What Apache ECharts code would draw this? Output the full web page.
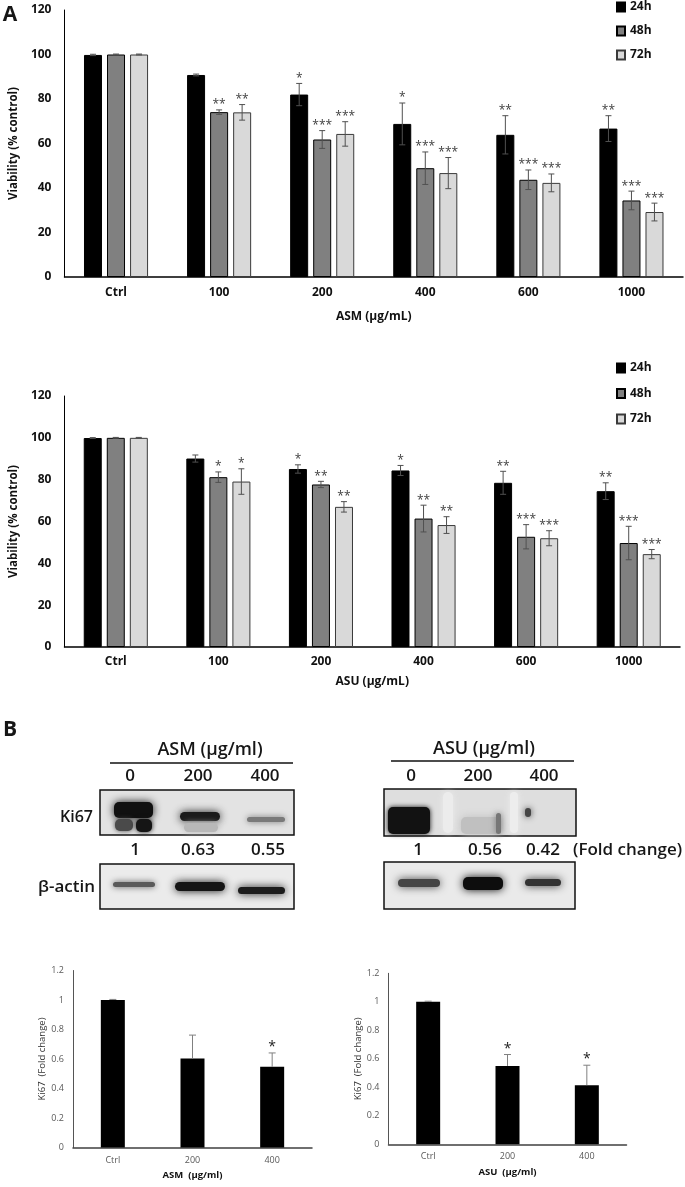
<!DOCTYPE html>
<html>
<head>
<meta charset="utf-8">
<script src="https://cdn.jsdelivr.net/npm/echarts@6/dist/echarts.min.js"></script>
<style>
  html, body { margin: 0; padding: 0; background: #fff; }
  #main { width: 685px; height: 1187px; }
</style>
</head>
<body>
<div id="main"></div>
<script>
// ---- data ----
const doses = ['Ctrl', '100', '200', '400', '600', '1000'];
const viabTicks = [0, 20, 40, 60, 80, 100, 120];

// panel A, ASM
const asm24 = [99.8, 90.8, 82.0, 68.8, 63.9, 66.7];
const asm48 = [100, 74.1, 61.8, 48.9, 43.7, 34.4];
const asm72 = [100, 74.0, 64.3, 46.7, 42.3, 29.2];
const asm24Err = [0.3, 0.4, 5.0, 9.4, 8.6, 5.8];
const asm48Err = [0.2, 1.0, 4.0, 7.3, 4.4, 4.2];
const asm72Err = [0.2, 3.5, 5.5, 7.0, 4.0, 4.0];
const asm24Sig = ['', '', '*', '*', '**', '**'];
const asm48Sig = ['', '**', '***', '***', '***', '***'];
const asm72Sig = ['', '**', '***', '***', '***', '***'];

// panel A, ASU
const asu24 = [99.9, 90.1, 85.1, 84.4, 78.5, 74.5];
const asu48 = [100, 81.2, 77.7, 61.4, 52.7, 49.7];
const asu72 = [100, 79.1, 67.0, 58.3, 52.0, 44.4];
const asu24Err = [0.2, 1.7, 2.0, 2.4, 5.5, 4.0];
const asu48Err = [0.2, 2.5, 1.5, 6.4, 5.8, 8.0];
const asu72Err = [0.2, 6.1, 2.5, 4.0, 3.6, 2.2];
const asu24Sig = ['', '', '*', '*', '**', '**'];
const asu48Sig = ['', '*', '**', '**', '***', '***'];
const asu72Sig = ['', '*', '**', '**', '***', '***'];

// panel B, western blot quantification
const blotLanes = ['0', '200', '400'];
const asmFold = ['1', '0.63', '0.55'];
const asuFold = ['1', '0.56', '0.42'];
const ki67Doses = ['Ctrl', '200', '400'];
const foldTicks = [0, 0.2, 0.4, 0.6, 0.8, 1, 1.2];
const ki67Asm = [1.0, 0.604, 0.547];
const ki67AsmErr = [0.004, 0.158, 0.094];
const ki67AsmSig = ['', '', '*'];
const ki67Asu = [1.0, 0.55, 0.415];
const ki67AsuErr = [0.004, 0.08, 0.14];
const ki67AsuSig = ['', '*', '*'];

const FONT = '"Open Sans", "Liberation Sans", sans-serif';
const timeNames = ['24h', '48h', '72h'];
const timeColors = ['#000000', '#808080', '#d9d9d9'];

const chart = echarts.init(document.getElementById('main'), null, { renderer: 'canvas' });

// error bars (+ significance stars) drawn through the axes
function errorSeries(axis, means, errs, sigs, offset, o) {
  return {
    type: 'custom',
    xAxisIndex: axis,
    yAxisIndex: axis,
    silent: true,
    z: 10,
    data: means.map((m, i) => [i, o.upOnly ? m : m - errs[i], m + errs[i]]),
    renderItem: function (params, api) {
      const i = params.dataIndex;
      const lo = api.coord([api.value(0), api.value(1)]);
      const hi = api.coord([api.value(0), api.value(2)]);
      const x = lo[0] + offset;
      const st = { stroke: o.color, lineWidth: 1 };
      const kids = [
        { type: 'line', shape: { x1: x, y1: lo[1], x2: x, y2: hi[1] }, style: st },
        { type: 'line', shape: { x1: x - o.cap, y1: hi[1], x2: x + o.cap, y2: hi[1] }, style: st }
      ];
      if (!o.upOnly) {
        kids.push({ type: 'line', shape: { x1: x - o.cap, y1: lo[1], x2: x + o.cap, y2: lo[1] }, style: st });
      }
      if (sigs[i]) {
        kids.push({
          type: 'text',
          style: {
            text: sigs[i], x: x, y: hi[1] - o.sigGap,
            font: o.sigFont, fill: o.sigColor,
            align: 'center', textAlign: 'center',
            verticalAlign: 'middle', textVerticalAlign: 'middle'
          }
        });
      }
      return { type: 'group', children: kids };
    }
  };
}

function barSeries(axis, name, data, color) {
  return {
    name: name, type: 'bar', xAxisIndex: axis, yAxisIndex: axis,
    data: data, barWidth: 18, barGap: '28%',
    itemStyle: { color: color, borderColor: name === '72h' ? '#3a3a3a' : '#000', borderWidth: 1 },
    emphasis: { disabled: true }
  };
}

const topErr = { color: '#505050', cap: 3, sigGap: 5, sigFont: '12px ' + FONT, sigColor: '#404040' };
const botErr = { color: '#808080', cap: 3.5, sigGap: 6, sigFont: '14px ' + FONT, sigColor: '#222', upOnly: true };

function viabX(grid, title, margin, gap) {
  return {
    type: 'category', gridIndex: grid, data: doses,
    axisLine: { lineStyle: { color: '#000', width: 1.5 } },
    axisTick: { show: false },
    axisLabel: { margin: margin, color: '#111', fontWeight: 'bold', fontSize: 12, fontFamily: FONT },
    name: title, nameLocation: 'middle', nameGap: gap,
    nameTextStyle: { color: '#111', fontWeight: 'bold', fontSize: 12, fontFamily: FONT }
  };
}
function viabY(grid) {
  return {
    type: 'value', gridIndex: grid,
    min: viabTicks[0], max: viabTicks[viabTicks.length - 1], interval: viabTicks[1] - viabTicks[0],
    splitLine: { show: false }, axisTick: { show: false },
    axisLine: { show: true, lineStyle: { color: '#000', width: 1 } },
    axisLabel: { margin: 13, color: '#111', fontWeight: 'bold', fontSize: 12, fontFamily: FONT },
    name: 'Viability (% control)', nameLocation: 'middle', nameRotate: 90, nameGap: 38,
    nameTextStyle: { color: '#111', fontWeight: 'bold', fontSize: 11.5, fontFamily: FONT }
  };
}
function foldX(grid, title) {
  return {
    type: 'category', gridIndex: grid, data: ki67Doses,
    axisLine: { lineStyle: { color: '#404040', width: 1.5 } },
    axisTick: { show: false },
    axisLabel: { margin: 8, color: '#595959', fontSize: 9, fontFamily: FONT },
    name: title, nameLocation: 'middle', nameGap: 23,
    nameTextStyle: { color: '#111', fontWeight: 'bold', fontSize: 9.5, fontFamily: FONT }
  };
}
function foldY(grid) {
  return {
    type: 'value', gridIndex: grid,
    min: foldTicks[0], max: foldTicks[foldTicks.length - 1], interval: 0.2,
    splitLine: { show: false }, axisTick: { show: false },
    axisLine: { show: true, lineStyle: { color: '#555', width: 1 } },
    axisLabel: { margin: 9, color: '#595959', fontSize: 9, fontFamily: FONT },
    name: 'Ki67  (Fold change)', nameLocation: 'middle', nameRotate: 90, nameGap: 22,
    nameTextStyle: { color: '#333', fontSize: 9.5, fontFamily: FONT }
  };
}

// ---- western blot decoration ----
function txt(s, x, y, size, align, weight) {
  return {
    type: 'text', silent: true,
    style: {
      text: s, x: x, y: y, fill: '#161616',
      font: (weight || '600') + ' ' + size + 'px ' + FONT,
      align: align || 'center', textAlign: align || 'center',
      verticalAlign: 'middle', textVerticalAlign: 'middle'
    }
  };
}
function box(x, y, w, h, fill) {
  return { type: 'rect', silent: true, shape: { x: x, y: y, width: w, height: h },
    style: { fill: fill, stroke: '#111', lineWidth: 1.5 } };
}
function band(x, y, w, h, c, blur) {
  return { type: 'rect', silent: true, z: 1, shape: { x: x + 2, y: y + 1, width: w - 4, height: Math.max(2, h - 2), r: Math.min(5, h / 2) },
    style: { fill: c, shadowBlur: blur == null ? 8 : blur, shadowColor: c } };
}
function hline(x1, x2, y) {
  return { type: 'line', silent: true, shape: { x1: x1, y1: y, x2: x2, y2: y },
    style: { stroke: '#111', lineWidth: 1.5 } };
}

const leftLaneX = [130, 198, 265];
const rightLaneX = [411, 478, 544];

const graphics = [
  txt('A', 10, 15, 21, 'center', 'bold'),
  txt('B', 10, 730, 21, 'center', 'bold'),
  // left blot (ASM)
  txt('ASM (\u03bcg/ml)', 210, 750, 18),
  hline(110, 293, 763),
  box(100, 790, 194, 45, '#e3e3e3'),
  band(112, 801, 43, 18, '#111'),
  band(113, 818, 22, 14, '#4a4a4a', 5),
  band(134, 818, 20, 15, '#151515', 5),
  band(178, 811, 44, 11, '#1a1a1a'),
  band(182, 822, 38, 11, '#b8b8b8', 6),
  band(245, 816, 42, 7, '#7a7a7a', 6),
  txt('Ki67', 93, 817, 16, 'right'),
  box(100, 864, 194, 45, '#ebebeb'),
  band(111, 881, 46, 7, '#5a5a5a', 6),
  band(173, 881, 54, 11, '#151515'),
  band(236, 886, 51, 9, '#1c1c1c'),
  txt('\u03b2-actin', 95, 887, 17, 'right'),
  // right blot (ASU)
  txt('ASU (\u03bcg/ml)', 484, 749, 18),
  hline(391, 574, 761),
  box(384, 789, 192, 47, '#dedede'),
  band(441, 791, 14, 43, '#ececec', 6),
  band(508, 791, 12, 43, '#ededed', 6),
  band(386, 806, 46, 29, '#121212', 5),
  band(459, 816, 44, 19, '#c0c0c0', 8),
  band(494, 812, 9, 23, '#767676', 6),
  band(523, 807, 10, 11, '#454545', 6),
  box(384, 862, 191, 47, '#eaeaea'),
  band(396, 878, 46, 10, '#454545'),
  band(461, 876, 44, 15, '#0d0d0d'),
  band(523, 878, 40, 9, '#333333'),
  txt('(Fold change)', 573, 850, 17, 'left')
];
blotLanes.forEach((s, i) => {
  graphics.push(txt(s, leftLaneX[i], 776, 17));
  graphics.push(txt(s, rightLaneX[i], 776, 17));
});
asmFold.forEach((s, i) => graphics.push(txt(s, [135, 198, 268][i], 850, 17)));
asuFold.forEach((s, i) => graphics.push(txt(s, [418, 485, 543][i], 850, 17)));

const legendBase = {
  orient: 'vertical', left: 616, itemWidth: 8, itemHeight: 9, padding: 0,
  icon: 'rect', data: timeNames, selectedMode: false,
  textStyle: { fontWeight: 'bold', fontSize: 12, lineHeight: 14, color: '#111', fontFamily: FONT }
};

const option = {
  animation: false,
  backgroundColor: '#fff',
  textStyle: { fontFamily: FONT },
  legend: [
    Object.assign({}, legendBase, { top: 0, itemGap: 10 }),
    Object.assign({}, legendBase, { top: 361, itemGap: 11.5 })
  ],
  grid: [
    { left: 59, top: 10, width: 624, height: 267 },
    { left: 60, top: 396, width: 620, height: 251 },
    { left: 73, top: 970.5, width: 239, height: 177 },
    { left: 388.5, top: 973.3, width: 238, height: 171 }
  ],
  xAxis: [
    viabX(0, 'ASM (\u00b5g/mL)', 10, 34),
    viabX(1, 'ASU (\u00b5g/mL)', 9, 29),
    foldX(2, 'ASM  (\u00b5g/ml)'),
    foldX(3, 'ASU  (\u00b5g/ml)')
  ],
  yAxis: [viabY(0), viabY(1), foldY(2), foldY(3)],
  series: [
    barSeries(0, '24h', asm24, timeColors[0]),
    barSeries(0, '48h', asm48, timeColors[1]),
    barSeries(0, '72h', asm72, timeColors[2]),
    errorSeries(0, asm24, asm24Err, asm24Sig, -23, topErr),
    errorSeries(0, asm48, asm48Err, asm48Sig, 0, topErr),
    errorSeries(0, asm72, asm72Err, asm72Sig, 23, topErr),

    barSeries(1, '24h', asu24, timeColors[0]),
    barSeries(1, '48h', asu48, timeColors[1]),
    barSeries(1, '72h', asu72, timeColors[2]),
    errorSeries(1, asu24, asu24Err, asu24Sig, -23, topErr),
    errorSeries(1, asu48, asu48Err, asu48Sig, 0, topErr),
    errorSeries(1, asu72, asu72Err, asu72Sig, 23, topErr),

    { type: 'bar', xAxisIndex: 2, yAxisIndex: 2, data: ki67Asm, barWidth: 24,
      itemStyle: { color: '#000' }, emphasis: { disabled: true } },
    errorSeries(2, ki67Asm, ki67AsmErr, ki67AsmSig, 0, botErr),
    { type: 'bar', xAxisIndex: 3, yAxisIndex: 3, data: ki67Asu, barWidth: 24,
      itemStyle: { color: '#000' }, emphasis: { disabled: true } },
    errorSeries(3, ki67Asu, ki67AsuErr, ki67AsuSig, 0, botErr)
  ],
  graphic: graphics
};

chart.setOption(option);
</script>
</body>
</html>
